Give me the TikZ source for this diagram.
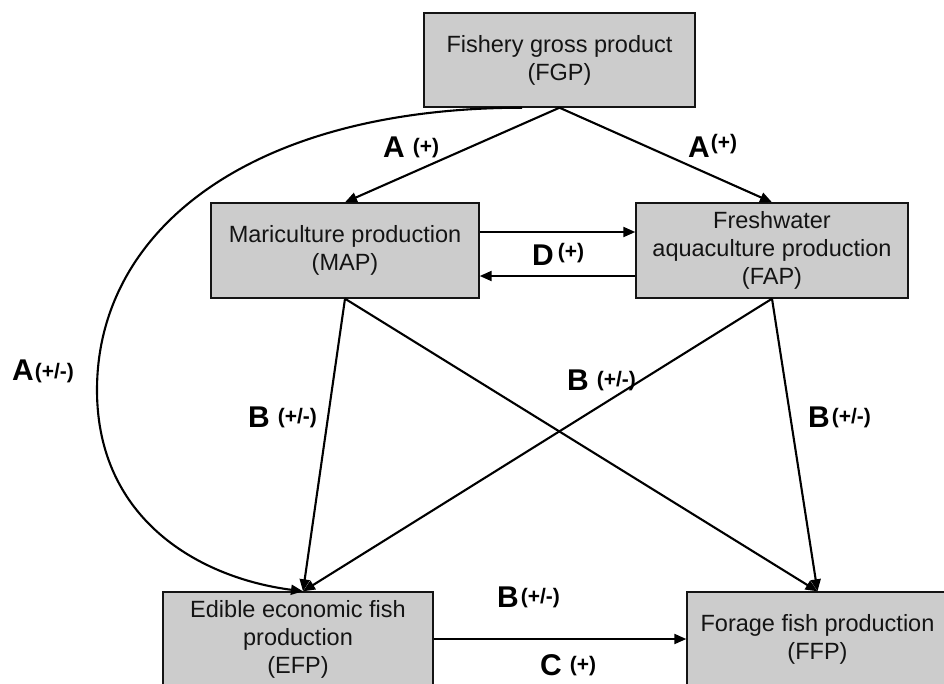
\documentclass[tikz,border=0pt]{standalone}
\usepackage{fontspec}
\setmainfont{Liberation Sans}
\usetikzlibrary{arrows.meta}
\definecolor{boxgray}{RGB}{204,204,204}
\definecolor{inkc}{RGB}{20,20,20}
\newcommand\lblsign[2]{\raisebox{#1}{\fontsize{21}{21}\selectfont\bfseries #2}}
\begin{document}
\begin{tikzpicture}[x=1pt,y=-1pt,
  box/.style={draw=inkc,line width=1.4pt,fill=boxgray,inner sep=0pt,align=center,
    text=inkc,font=\fontsize{23.5}{28}\selectfont},
  conn/.style={draw=black,line width=2.1pt,-{Triangle[length=12pt,width=10pt]}},
  lbl/.style={anchor=base west,inner sep=0pt,text=black,font=\fontsize{30}{30}\selectfont\bfseries}]
\clip (0,0) rectangle (944,683);
\fill[white] (0,0) rectangle (944,683);
% boxes
\node[box,minimum width=271pt,minimum height=94pt] (fgp) at (559.5,60) {Fishery gross product\\(FGP)};
\node[box,minimum width=268pt,minimum height=95pt] (map) at (345,250.5) {Mariculture production\\(MAP)};
\node[box,minimum width=272pt,minimum height=95pt] (fap) at (772,250.5) {Freshwater\\aquaculture production\\(FAP)};
\node[box,minimum width=270pt,minimum height=94pt] (efp) at (298,639) {Edible economic fish\\production\\(EFP)};
\node[box,minimum width=261pt,minimum height=94pt] (ffp) at (817.5,639) {Forage fish production\\(FFP)};
% connectors
\draw[conn] (fgp.south) -- (map.north);
\draw[conn] (fgp.south) -- (fap.north);
\draw[conn] ([yshift=18.5pt]map.east) -- ([yshift=18.5pt]fap.west);
\draw[conn] ([yshift=-25.5pt]fap.west) -- ([yshift=-25.5pt]map.east);
\draw[conn] (map.south) -- ([xshift=5pt]efp.north);
\draw[conn] (map.south) -- (ffp.north);
\draw[conn] (fap.south) -- ([xshift=5pt]efp.north);
\draw[conn] (fap.south) -- (ffp.north);
\draw[conn] (efp.east) -- (ffp.west);
\draw[conn] ([xshift=-37.5pt]fgp.south) .. controls (250,108) and (97,230) .. (97,390)
  .. controls (97,520) and (200,578) .. ([xshift=5pt]efp.north);
% labels
\node[lbl] (l1) at (383,157) {A\hspace{8pt}\lblsign{4pt}{(+)}};
\node[lbl] (l2) at (688,157) {A\hspace{1pt}\lblsign{8pt}{(+)}};
\node[lbl] (l3) at (532,265) {D\hspace{4pt}\lblsign{7pt}{(+)}};
\node[lbl] (l4) at (12,380) {A\hspace{1pt}\lblsign{2pt}{(+/-)}};
\node[lbl] (l5) at (248,427) {B\hspace{8pt}\lblsign{4pt}{(+/-)}};
\node[lbl] (l6) at (567,390) {B\hspace{8pt}\lblsign{4pt}{(+/-)}};
\node[lbl] (l7) at (808,427) {B\hspace{2pt}\lblsign{4pt}{(+/-)}};
\node[lbl] (l8) at (497,607) {B\hspace{2pt}\lblsign{4pt}{(+/-)}};
\node[lbl] (l9) at (540,675) {C\hspace{8pt}\lblsign{4pt}{(+)}};
\end{tikzpicture}
\end{document}
